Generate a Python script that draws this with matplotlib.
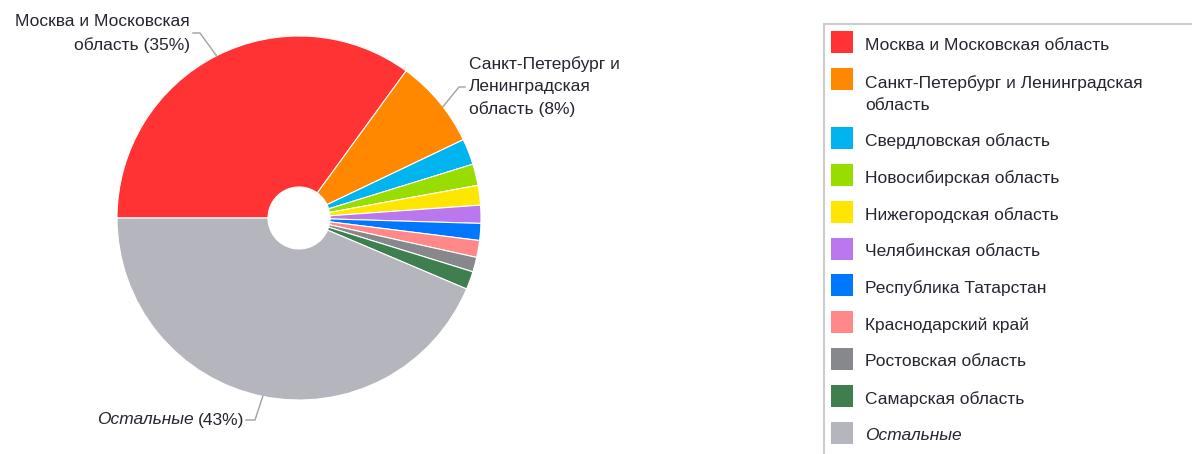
import matplotlib
matplotlib.use("Agg")
import matplotlib.pyplot as plt
from matplotlib.patches import Rectangle
import numpy as np

plt.rcParams['font.family'] = ['Liberation Sans', 'DejaVu Sans']

categories = [
    "Москва и Московская область",
    "Санкт-Петербург и Ленинградская область",
    "Свердловская область",
    "Новосибирская область",
    "Нижегородская область",
    "Челябинская область",
    "Республика Татарстан",
    "Краснодарский край",
    "Ростовская область",
    "Самарская область",
    "Остальные",
]
shares = [35.0, 7.9, 2.3, 1.9, 1.75, 1.6, 1.5, 1.5, 1.3, 1.6, 43.6]
label_pcts = [35, 8, 43]  # percentages as printed on the chart labels
colors = ["#FF3333", "#FF8800", "#00B4F0", "#99DD00", "#FFE600", "#BB77EE",
          "#0077FF", "#FF8888", "#87888C", "#3F7F4F", "#B5B5BD"]
legend_labels = [
    "Москва и Московская область",
    "Санкт-Петербург и Ленинградская\nобласть",
    "Свердловская область",
    "Новосибирская область",
    "Нижегородская область",
    "Челябинская область",
    "Республика Татарстан",
    "Краснодарский край",
    "Ростовская область",
    "Самарская область",
    "Остальные",
]

W, H = 1192, 454
fig = plt.figure(figsize=(W / 100, H / 100), dpi=100)
ax = fig.add_axes([0, 0, 1, 1])

cx, cy, R, r_hole = 299, H - 218, 182, 31
wedges, _ = ax.pie(shares, colors=colors, startangle=180, counterclock=False,
                   radius=R, center=(cx, cy), frame=True,
                   wedgeprops=dict(width=R - r_hole, edgecolor="white", linewidth=0.8))
ax.set_xlim(0, W)
ax.set_ylim(0, H)
ax.set_aspect("equal")
ax.axis("off")

txtc = "#252530"
fs = 12.5
lc = "#A0A0A0"

def edge_point(w, frac=0.5):
    a = np.deg2rad(w.theta1 + (w.theta2 - w.theta1) * frac)
    return cx + R * np.cos(a), cy + R * np.sin(a)

def multiline(x, y_first, text, step, ha, style="normal"):
    for i, line in enumerate(text.split("\n")):
        ax.text(x, H - (y_first + i * step), line, ha=ha, va="center",
                fontsize=fs, color=txtc, style=style)

# Moscow label
multiline(190, 22, f"Москва и Московская\nобласть ({label_pcts[0]}%)", 23, "right")
px, py = edge_point(wedges[0], 0.50)
ax.plot([193, 200, px], [H - 33, H - 33, py], color=lc, lw=1)

# St Petersburg label
multiline(469, 64, f"Санкт-Петербург и\nЛенинградская\nобласть ({label_pcts[1]}%)", 22.5, "left")
px, py = edge_point(wedges[1], 0.43)
ax.plot([465, 459, px], [H - 87, H - 87, py], color=lc, lw=1)

# Others label
t1 = ax.text(97, H - 420, "Остальные", ha="left", va="center", fontsize=fs,
             color=txtc, style="italic")
fig.canvas.draw()
bb = t1.get_window_extent()
t2 = ax.text(bb.x1 + 4, H - 420, f"({label_pcts[2]}%)", ha="left", va="center", fontsize=fs, color=txtc)
fig.canvas.draw()
x_end = t2.get_window_extent().x1 + 2
px, py = edge_point(wedges[10], 0.5)
ax.plot([x_end, x_end + 9, px], [H - 420, H - 420, py], color=lc, lw=1)

# Legend box
ax.add_patch(Rectangle((824, -10), 400, H - 24 + 10, facecolor="white",
                       edgecolor="#CCCCCC", lw=1.5, clip_on=False))
sw_tops = [31, 68, 127, 164, 201, 238, 274, 311, 348, 385, 422]
for lab, col, top in zip(legend_labels, colors, sw_tops):
    ax.add_patch(Rectangle((831, H - top - 22), 22, 22, facecolor=col, edgecolor="none"))
    italic = "italic" if lab == "Остальные" else "normal"
    first = top + 14 if "\n" not in lab else top + 15
    multiline(865, first, lab, 22, "left", style=italic)

fig.savefig("out.png", dpi=100)
